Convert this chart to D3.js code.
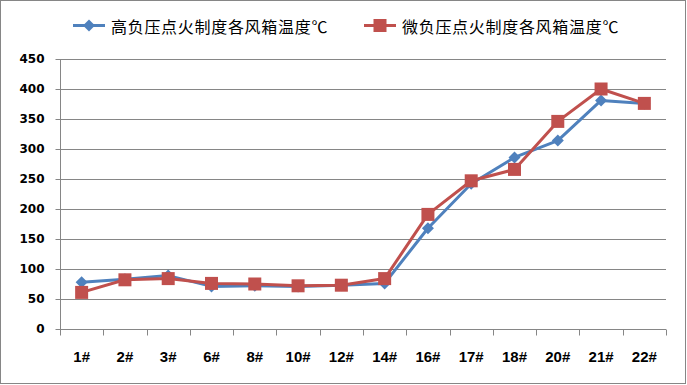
<!DOCTYPE html>
<html><head><meta charset="utf-8">
<script src="https://cdn.jsdelivr.net/npm/d3@7/dist/d3.min.js"></script>
<style>body{margin:0;background:#fff}svg{display:block}</style>
</head><body>
<script>
const categories = ["1#","2#","3#","6#","8#","10#","12#","14#","16#","17#","18#","20#","21#","22#"];
const seriesNames = ["高负压点火制度各风箱温度℃","微负压点火制度各风箱温度℃"];
const highValues = [78,83,89,71,72,71,73,76,168,242,286,314,381,376];
const lowValues  = [61,82,84,76,75,72,73,84,191,247,266,346,400,376];
const yTicks = [0,50,100,150,200,250,300,350,400,450];

const W=687,H=385;
const svg=d3.select("body").append("svg").attr("width",W).attr("height",H);
svg.append("rect").attr("x",0.5).attr("y",0.5).attr("width",W-2).attr("height",H-2)
  .attr("fill","#fff").attr("stroke","#868686");

const m={l:60,r:21,t:59,b:56};
const x=d3.scaleBand().domain(categories).range([m.l,W-m.r]);
const y=d3.scaleLinear().domain([0,450]).range([H-m.b,m.t]);

// gridlines
svg.append("g").selectAll("line").data(yTicks.filter(d=>d>0)).join("line")
  .attr("x1",m.l).attr("x2",W-m.r).attr("y1",d=>Math.round(y(d))+0.5).attr("y2",d=>Math.round(y(d))+0.5)
  .attr("stroke","#868686").attr("stroke-width",1);

// y axis
const ya=svg.append("g").attr("transform",`translate(${m.l+0.5},0)`)
  .call(d3.axisLeft(y).tickValues(yTicks).tickSize(5).tickPadding(11));
ya.selectAll("text").attr("font-family","'DejaVu Sans', sans-serif").attr("font-size",12).attr("font-weight","bold").attr("fill","#000");
ya.selectAll("line,path").attr("stroke","#868686");
ya.select("path").attr("d",`M0,${m.t}V${H-m.b+0.5}`);

// x axis
const xa=svg.append("g").attr("transform",`translate(0,${Math.round(y(0))+0.5})`);
xa.append("line").attr("x1",m.l).attr("x2",W-m.r).attr("stroke","#868686");
const bounds=categories.map(c=>x(c)).concat([x.range()[1]]);
xa.selectAll("line.t").data(bounds).join("line").attr("class","t")
  .attr("x1",d=>Math.round(d)+0.5).attr("x2",d=>Math.round(d)+0.5).attr("y1",0).attr("y2",6).attr("stroke","#868686");
xa.selectAll("text").data(categories).join("text")
  .attr("x",d=>x(d)+x.bandwidth()/2).attr("y",32).attr("text-anchor","middle")
  .attr("font-family","'Liberation Sans', Arial, sans-serif").attr("font-size",15).attr("font-weight","bold").text(d=>d);

const cx=d=>x(d)+x.bandwidth()/2;
const colors=["#4F81BD","#C0504D"];
const line=d3.line().x((d,i)=>cx(categories[i])).y(d=>y(d));

function drawSeries(vals,col,marker){
  svg.append("path").datum(vals).attr("d",line).attr("fill","none").attr("stroke",col).attr("stroke-width",3).attr("stroke-linejoin","round");
  const g=svg.append("g");
  vals.forEach((v,i)=>marker(g,cx(categories[i]),y(v),col));
}
const diamond=(g,px,py,col)=>g.append("path").attr("d",`M${px},${py-6}L${px+6},${py}L${px},${py+6}L${px-6},${py}Z`).attr("fill",col);
const square=(g,px,py,col)=>g.append("rect").attr("x",px-6.5).attr("y",py-6.5).attr("width",13).attr("height",13).attr("fill",col);

drawSeries(highValues,colors[0],diamond);
drawSeries(lowValues,colors[1],square);

// legend
const lg=svg.append("g");
const lx=[73,364];
seriesNames.forEach((n,i)=>{
  const ly=25.5;
  lg.append("line").attr("x1",lx[i]).attr("x2",lx[i]+32).attr("y1",ly).attr("y2",ly).attr("stroke",colors[i]).attr("stroke-width",3);
  (i==0?diamond:square)(lg,lx[i]+16,ly,colors[i]);
  lg.append("text").attr("x",lx[i]+38).attr("y",ly+7).attr("font-family","'Noto Sans CJK SC', sans-serif")
    .attr("font-size",16).attr("letter-spacing",0.7).attr("fill","#000").text(n);
});
</script>
</body></html>
